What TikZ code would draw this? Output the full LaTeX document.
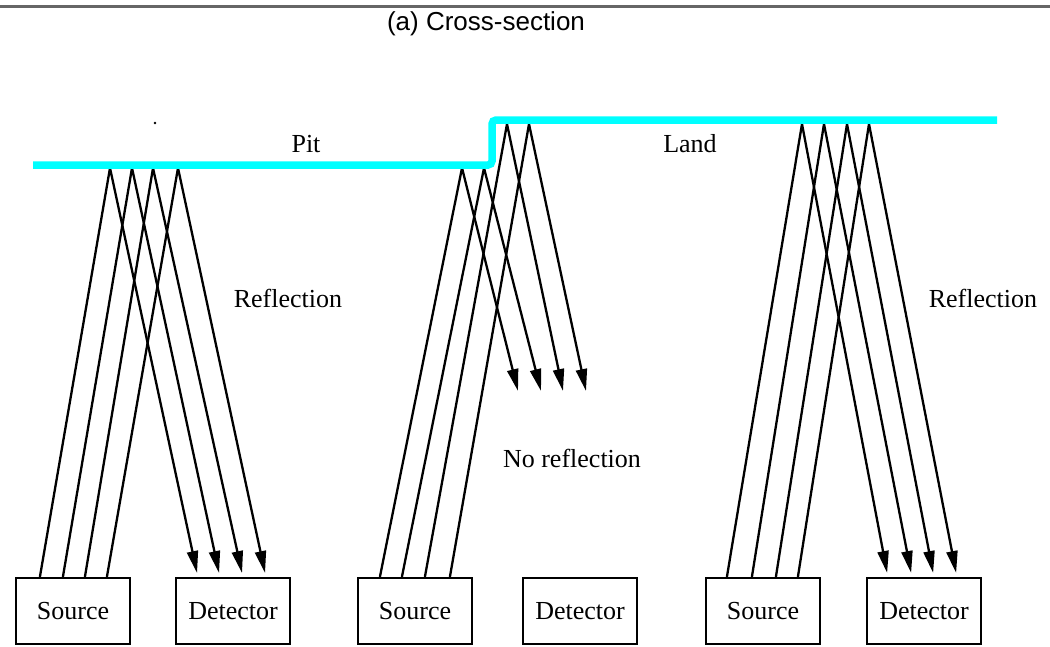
\documentclass[tikz,border=0pt]{standalone}
\usepackage{fontspec}
\setmainfont{Liberation Serif}
\newfontfamily\titlefont{Liberation Sans}
\usetikzlibrary{arrows.meta}

\definecolor{surfcyan}{RGB}{0,255,255}

\tikzset{
  unitbox/.style={draw, line width=2.2pt, minimum width=114pt, minimum height=66pt, inner sep=0pt, font=\fontsize{26}{30}\selectfont},
  ray/.style={line width=2.3pt},
  beam/.style={ray, -{Triangle[length=22pt,width=11pt]}, shorten >=4pt},
  txt/.style={font=\fontsize{26}{30}\selectfont, anchor=base},
  surface/.style={surfcyan, line width=7.5pt, rounded corners=4pt},
}

\begin{document}
\begin{tikzpicture}[x=1pt, y=-1pt]
    \useasboundingbox (0,0) rectangle (1050,646);

    % Heading
    \draw[line width=3pt, black!60] (0,6.5) -- (1050,6.5);
    \node[font=\titlefont\fontsize{26}{30}\selectfont, anchor=base] (title) at (486,30) {(a) Cross-section};

    % Boxes
    \node[unitbox] (src1) at (73,611) {Source};
    \node[unitbox] (det1) at (233,611) {Detector};
    \node[unitbox] (src2) at (415,611) {Source};
    \node[unitbox] (det2) at (580,611) {Detector};
    \node[unitbox] (src3) at (763,611) {Source};
    \node[unitbox] (det3) at (924,611) {Detector};

    % Points on the surface
    \coordinate (pit1) at (110,168);
    \coordinate (pit2) at (132,168);
    \coordinate (pit3) at (153,168);
    \coordinate (pit4) at (178,168);
    \coordinate (edge1) at (462,168);
    \coordinate (edge2) at (484,168);
    \coordinate (edge3) at (507,124);
    \coordinate (edge4) at (529,124);
    \coordinate (land1) at (802,124);
    \coordinate (land2) at (824,124);
    \coordinate (land3) at (847,124);
    \coordinate (land4) at (869,124);
    \coordinate (miss1) at (518,391);
    \coordinate (miss2) at (541,391);
    \coordinate (miss3) at (563,391);
    \coordinate (miss4) at (586,391);

    % Pit
    \draw[beam] ([xshift=25pt]src1.north west) -- (pit1) -- ([xshift=23pt]det1.north west);
    \draw[beam] ([xshift=48pt]src1.north west) -- (pit2) -- ([xshift=45pt]det1.north west);
    \draw[beam] ([xshift=70pt]src1.north west) -- (pit3) -- ([xshift=68pt]det1.north west);
    \draw[beam] ([xshift=92pt]src1.north west) -- (pit4) -- ([xshift=91pt]det1.north west);

    % Edge
    \draw[beam, shorten >=0pt] ([xshift=23pt]src2.north west) -- (edge1) -- (miss1);
    \draw[beam, shorten >=0pt] ([xshift=45pt]src2.north west) -- (edge2) -- (miss2);
    \draw[beam, shorten >=0pt] ([xshift=68pt]src2.north west) -- (edge3) -- (miss3);
    \draw[beam, shorten >=0pt] ([xshift=93pt]src2.north west) -- (edge4) -- (miss4);

    % Land
    \draw[beam] ([xshift=22pt]src3.north west) -- (land1) -- ([xshift=22pt]det3.north west);
    \draw[beam] ([xshift=47pt]src3.north west) -- (land2) -- ([xshift=46pt]det3.north west);
    \draw[beam] ([xshift=71pt]src3.north west) -- (land3) -- ([xshift=68pt]det3.north west);
    \draw[beam] ([xshift=93pt]src3.north west) -- (land4) -- ([xshift=91pt]det3.north west);

    % Surface
    \draw[surface] (33,165) -- (492,165) -- (492,120) -- (997,120);
    \fill (155,123) circle (1.3pt);

    % Labels
    \node[txt] (pit) at (306,152) {Pit};
    \node[txt] (land) at (690,152) {Land};
    \node[txt] (refl1) at (288,307) {Reflection};
    \node[txt] (refl2) at (983,307) {Reflection};
    \node[txt] (norefl) at (572,467) {No reflection};
\end{tikzpicture}
\end{document}
